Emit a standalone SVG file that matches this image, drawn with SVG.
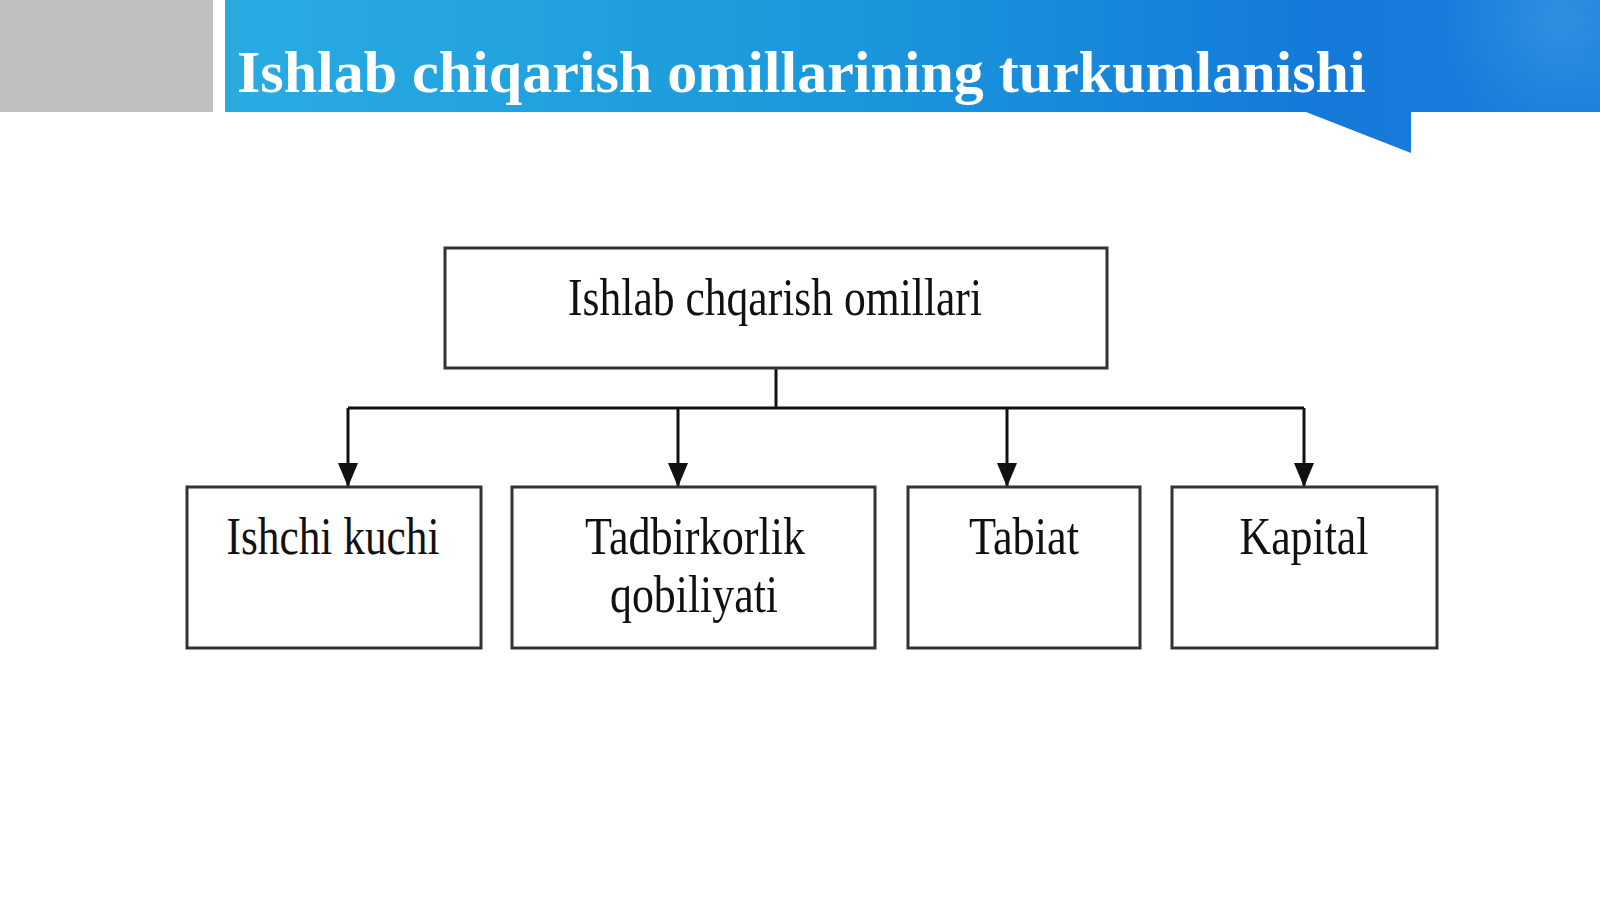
<svg xmlns="http://www.w3.org/2000/svg" width="1600" height="899" viewBox="0 0 1600 899">
  <defs>
    <linearGradient id="band" x1="0" y1="0" x2="1" y2="0">
      <stop offset="0" stop-color="#29ABE2"/>
      <stop offset="0.45" stop-color="#1B98DC"/>
      <stop offset="0.8" stop-color="#1479D9"/>
      <stop offset="1" stop-color="#1A7FDC"/>
    </linearGradient>
    <radialGradient id="glow" cx="1560" cy="20" r="120" gradientUnits="userSpaceOnUse">
      <stop offset="0" stop-color="#3A9BE3" stop-opacity="0.6"/>
      <stop offset="1" stop-color="#3A9BE3" stop-opacity="0"/>
    </radialGradient>
    <marker id="arrow" viewBox="0 0 24 20" refX="23" refY="10" markerWidth="24" markerHeight="20" markerUnits="userSpaceOnUse" orient="auto">
      <path d="M0,0 L24,10 L0,20 Z" fill="#111"/>
    </marker>
    <style>
      .title { font-family: "Liberation Serif", "Times New Roman", serif; font-weight: bold; font-size: 60px; fill: #ffffff; }
      .box { fill: #ffffff; stroke: #333333; stroke-width: 3; }
      .label { font-family: "Liberation Serif", "Times New Roman", serif; font-size: 53px; fill: #111111; text-anchor: middle; }
      .conn { fill: none; stroke: #111111; stroke-width: 3; }
    </style>
  </defs>

  <rect x="0" y="0" width="1600" height="899" fill="#ffffff"/>

  <g id="header">
    <rect x="0" y="0" width="213" height="112" fill="#C0C0C0"/>
    <path d="M225,0 H1600 V112 H1411 V153 L1306,112 H225 Z" fill="url(#band)"/>
    <rect x="1400" y="0" width="200" height="112" fill="url(#glow)"/>
    <text class="title" x="237" y="92">Ishlab chiqarish omillarining turkumlanishi</text>
  </g>

  <g id="connectors">
    <path class="conn" d="M776,368 V408"/>
    <path class="conn" d="M348,408 H1304"/>
    <path class="conn" d="M348,408 V486" marker-end="url(#arrow)"/>
    <path class="conn" d="M678,408 V486" marker-end="url(#arrow)"/>
    <path class="conn" d="M1007,408 V486" marker-end="url(#arrow)"/>
    <path class="conn" d="M1304,408 V486" marker-end="url(#arrow)"/>
  </g>

  <g id="node-root">
    <rect class="box" x="445" y="248" width="662" height="120"/>
    <text class="label" x="775" y="315" font-size="54" textLength="414" lengthAdjust="spacingAndGlyphs">Ishlab chqarish omillari</text>
  </g>

  <g id="node-ishchi">
    <rect class="box" x="187" y="487" width="294" height="161"/>
    <text class="label" x="333" y="554" textLength="213" lengthAdjust="spacingAndGlyphs">Ishchi kuchi</text>
  </g>

  <g id="node-tadbirkorlik">
    <rect class="box" x="512" y="487" width="363" height="161"/>
    <text class="label" x="695" y="554" textLength="220" lengthAdjust="spacingAndGlyphs">Tadbirkorlik</text>
    <text class="label" x="694" y="612" textLength="168" lengthAdjust="spacingAndGlyphs">qobiliyati</text>
  </g>

  <g id="node-tabiat">
    <rect class="box" x="908" y="487" width="232" height="161"/>
    <text class="label" x="1024" y="554" textLength="110" lengthAdjust="spacingAndGlyphs">Tabiat</text>
  </g>

  <g id="node-kapital">
    <rect class="box" x="1172" y="487" width="265" height="161"/>
    <text class="label" x="1304" y="554" textLength="129" lengthAdjust="spacingAndGlyphs">Kapital</text>
  </g>
</svg>
